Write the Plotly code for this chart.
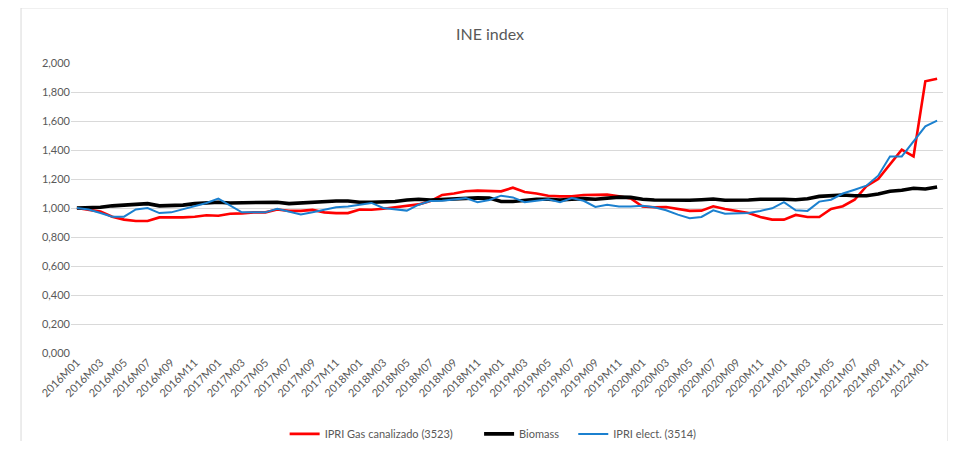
import plotly.graph_objects as go

months = [f"{y}M{m:02d}" for y in range(2016, 2023) for m in range(1, 13)][:74]

gas = [1.000, 0.990, 0.975, 0.940, 0.920, 0.910, 0.910, 0.935, 0.933, 0.935,
       0.940, 0.950, 0.947, 0.960, 0.963, 0.970, 0.970, 0.990, 0.980, 0.980,
       0.987, 0.970, 0.965, 0.965, 0.990, 0.988, 0.995, 1.005, 1.015, 1.025,
       1.048, 1.090, 1.100, 1.115, 1.120, 1.120, 1.115, 1.140, 1.110, 1.100,
       1.085, 1.080, 1.080, 1.090, 1.090, 1.092, 1.080, 1.066, 1.010, 1.005,
       1.007, 0.993, 0.980, 0.982, 1.012, 0.993, 0.977, 0.966, 0.938, 0.920,
       0.920, 0.952, 0.938, 0.938, 0.993, 1.012, 1.057, 1.150, 1.200, 1.300,
       1.402, 1.356, 1.874, 1.892]

biomass = [1.000, 1.000, 1.005, 1.015, 1.020, 1.025, 1.030, 1.015, 1.018, 1.020,
           1.030, 1.035, 1.040, 1.035, 1.035, 1.040, 1.040, 1.040, 1.030, 1.035,
           1.035, 1.040, 1.048, 1.048, 1.040, 1.040, 1.040, 1.045, 1.055, 1.060,
           1.055, 1.060, 1.062, 1.065, 1.070, 1.068, 1.045, 1.045, 1.053, 1.060,
           1.060, 1.055, 1.060, 1.065, 1.060, 1.068, 1.075, 1.073, 1.060, 1.055,
           1.053, 1.053, 1.053, 1.057, 1.062, 1.053, 1.053, 1.055, 1.060, 1.062,
           1.060, 1.057, 1.064, 1.080, 1.087, 1.090, 1.085, 1.085, 1.097, 1.115,
           1.122, 1.136, 1.131, 1.145]

elect = [1.000, 0.990, 0.965, 0.940, 0.940, 0.990, 1.000, 0.965, 0.970, 0.990,
         1.010, 1.035, 1.065, 1.020, 0.970, 0.970, 0.970, 0.995, 0.975, 0.955,
         0.970, 0.990, 1.005, 1.010, 1.025, 1.035, 1.000, 0.993, 0.982, 1.023,
         1.048, 1.050, 1.060, 1.068, 1.040, 1.055, 1.085, 1.073, 1.040, 1.050,
         1.060, 1.040, 1.068, 1.050, 1.007, 1.023, 1.010, 1.010, 1.015, 1.005,
         0.984, 0.954, 0.930, 0.938, 0.984, 0.961, 0.966, 0.966, 0.980, 0.998,
         1.040, 0.984, 0.980, 1.044, 1.057, 1.100, 1.126, 1.154, 1.223, 1.356,
         1.356, 1.460, 1.563, 1.602]

tick_labels = months[::2]
y_ticks = [0.0, 0.2, 0.4, 0.6, 0.8, 1.0, 1.2, 1.4, 1.6, 1.8, 2.0]

FONT = "Lato"
GREY = "#595959"

fig = go.Figure()
fig.add_trace(go.Scatter(x=months, y=gas, mode="lines", name="IPRI Gas canalizado (3523)",
                         line=dict(color="#FF0000", width=2.6), legend="legend"))
fig.add_trace(go.Scatter(x=months, y=biomass, mode="lines", name="Biomass",
                         line=dict(color="#000000", width=3.6), legend="legend2"))
fig.add_trace(go.Scatter(x=months, y=elect, mode="lines", name="IPRI elect. (3514)",
                         line=dict(color="#1B80CF", width=2.0), legend="legend3"))

leg_common = dict(orientation="h", yanchor="middle", y=-0.279, xanchor="left",
                  font=dict(family=FONT, size=11, color=GREY), itemwidth=30,
                  bgcolor="rgba(0,0,0,0)")

# page body adds an 8px offset; figure sized to fit the window exactly
fig.update_layout(
    width=940, height=433,
    margin=dict(l=63, r=5, t=55, b=88, autoexpand=False),
    paper_bgcolor="white", plot_bgcolor="white",
    separators=",.",
    font=dict(family=FONT, size=11, color=GREY),
    showlegend=True,
    legend=dict(x=0.245, **leg_common),
    legend2=dict(x=0.468, **leg_common),
    legend3=dict(x=0.576, **leg_common),
    annotations=[dict(text="INE index", xref="paper", yref="paper", x=0.481, y=1.103,
                      xanchor="center", yanchor="middle", showarrow=False,
                      font=dict(family=FONT, size=16, color=GREY))],
    shapes=[dict(type="rect", xref="paper", yref="paper",
                 x0=-0.0573, x1=1.0057, y0=-0.5, y1=1.19,
                 line=dict(color="#D9D9D9", width=1), layer="below")],
)

fig.update_xaxes(
    type="category", categoryorder="array", categoryarray=months,
    range=[-0.5, len(months) - 0.5], automargin=False,
    tickmode="array", tickvals=tick_labels, ticktext=tick_labels,
    tickangle=-45, showgrid=False, zeroline=False, showline=False,
    ticks="", tickfont=dict(family=FONT, size=11, color=GREY),
)
fig.update_yaxes(
    range=[0, 2], tickmode="array", tickvals=y_ticks, tickformat=".3f",
    automargin=False,
    showgrid=True, gridcolor="#D9D9D9", gridwidth=1, zeroline=False,
    showline=False, ticks="", tickfont=dict(family=FONT, size=11, color=GREY),
)

fig.write_html("out.html")
